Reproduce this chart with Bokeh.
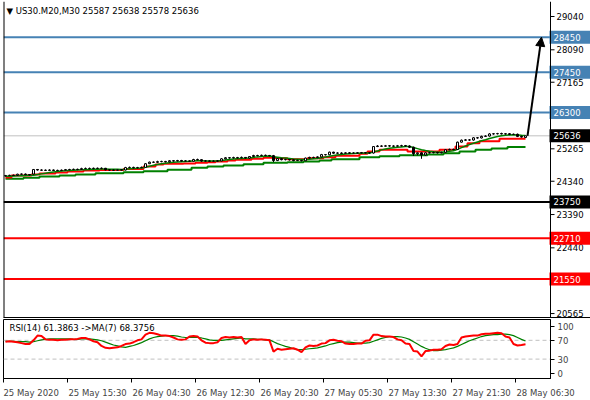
from bokeh.plotting import figure
from bokeh.models import (FixedTicker, Span, Arrow, NormalHead,
                          ColumnDataSource, Range1d)
from bokeh.layouts import column
from bokeh.embed import file_html
from bokeh.resources import INLINE
from bokeh.core.properties import value

FONT = "DejaVu Sans"
FS = "8.5px"

# ---------------- data ----------------
symbol = "US30.M20,M30"

opens = [
    24490, 24500, 24510, 24505, 24540, 24545, 24530, 24545, 24675, 24660,
    24655, 24650, 24660, 24650, 24645, 24655, 24670, 24675, 24680, 24675,
    24700, 24705, 24700, 24710, 24705, 24710, 24665, 24660, 24655, 24665,
    24660, 24730, 24735, 24725, 24730, 24735, 24840, 24885, 24880, 24900,
    24905, 24895, 24925, 24920, 24930, 24915, 24920, 24910, 24960, 24955,
    24915, 24920, 24910, 24915, 24920, 24980, 25010, 25005, 25015, 25010,
    25020, 25000, 25045, 25074, 25070, 25080, 25075, 25070, 24930, 24985,
    24955, 24960, 24950, 24930, 24935, 24925, 25000, 25020, 25015, 25035,
    25100, 25095, 25170, 25140, 25145, 25135, 25150, 25140, 25145, 25150,
    25155, 25150, 25145, 25330, 25345, 25340, 25350, 25345, 25340, 25350,
    25355, 25345, 25310, 25125, 25150, 25090, 25150, 25155, 25160, 25150,
    25165, 25240, 25250, 25245, 25455, 25510, 25520, 25515, 25580, 25575,
    25620, 25630, 25690, 25695, 25700, 25690, 25695, 25675, 25680, 25620,
    25587]

highs = [
    24520, 24525, 24530, 24555, 24560, 24560, 24545, 24690, 24690, 24680,
    24675, 24680, 24675, 24670, 24675, 24690, 24695, 24700, 24700, 24725,
    24730, 24730, 24730, 24730, 24735, 24720, 24680, 24680, 24685, 24685,
    24750, 24760, 24755, 24750, 24760, 24855, 24900, 24905, 24925, 24925,
    24920, 24945, 24945, 24950, 24950, 24940, 24935, 24980, 24985, 24965,
    24945, 24940, 24935, 24945, 25000, 25030, 25030, 25040, 25035, 25045,
    25030, 25060, 25095, 25095, 25100, 25100, 25090, 25090, 25000, 24995,
    24980, 24975, 24965, 24955, 24950, 25015, 25040, 25040, 25050, 25120,
    25115, 25185, 25180, 25165, 25165, 25170, 25170, 25165, 25170, 25175,
    25175, 25170, 25345, 25370, 25365, 25375, 25370, 25365, 25375, 25380,
    25375, 25365, 25325, 25165, 25165, 25170, 25180, 25185, 25180, 25185,
    25260, 25270, 25270, 25470, 25530, 25540, 25540, 25600, 25600, 25640,
    25650, 25710, 25715, 25720, 25725, 25715, 25715, 25700, 25700, 25640,
    25638]

lows = [
    24475, 24490, 24490, 24495, 24525, 24515, 24505, 24535, 24645, 24640,
    24635, 24640, 24635, 24630, 24630, 24645, 24655, 24660, 24655, 24665,
    24685, 24680, 24685, 24690, 24685, 24650, 24640, 24635, 24640, 24645,
    24650, 24715, 24705, 24705, 24715, 24725, 24830, 24860, 24865, 24880,
    24875, 24880, 24900, 24905, 24895, 24900, 24890, 24900, 24935, 24895,
    24900, 24890, 24895, 24895, 24910, 24965, 24985, 24990, 24990, 24995,
    24985, 24985, 25030, 25050, 25055, 25055, 25050, 24885, 24915, 24935,
    24935, 24930, 24910, 24915, 24905, 24915, 24990, 24995, 25000, 25020,
    25075, 25085, 25125, 25120, 25115, 25120, 25125, 25120, 25125, 25130,
    25130, 25125, 25130, 25315, 25320, 25325, 25325, 25320, 25325, 25330,
    25325, 25290, 25060, 25080, 24980, 25070, 25130, 25135, 25130, 25135,
    25150, 25225, 25225, 25230, 25440, 25495, 25495, 25500, 25555, 25560,
    25605, 25615, 25670, 25675, 25675, 25670, 25655, 25660, 25600, 25585,
    25578]

closes = [
    24500, 24510, 24505, 24540, 24545, 24530, 24520, 24675, 24660, 24655,
    24650, 24660, 24650, 24645, 24655, 24670, 24675, 24680, 24675, 24700,
    24705, 24700, 24710, 24705, 24710, 24665, 24660, 24655, 24665, 24660,
    24730, 24735, 24725, 24730, 24735, 24840, 24885, 24880, 24900, 24905,
    24895, 24925, 24920, 24930, 24915, 24920, 24910, 24960, 24955, 24915,
    24920, 24910, 24915, 24920, 24980, 25010, 25005, 25015, 25010, 25020,
    25005, 25045, 25074, 25070, 25080, 25075, 25070, 24930, 24985, 24955,
    24960, 24950, 24930, 24935, 24925, 25000, 25020, 25015, 25035, 25100,
    25095, 25170, 25140, 25145, 25135, 25150, 25140, 25145, 25150, 25155,
    25150, 25145, 25330, 25345, 25340, 25350, 25345, 25340, 25350, 25355,
    25345, 25310, 25125, 25150, 25090, 25150, 25155, 25160, 25150, 25165,
    25240, 25250, 25245, 25455, 25510, 25520, 25515, 25580, 25575, 25620,
    25630, 25690, 25695, 25700, 25690, 25695, 25675, 25680, 25620, 25600,
    25636]

# fast green moving average (tracks price)
fast_ma = [
    24480, 24485, 24490, 24495, 24500, 24505, 24510, 24512,
    24530, 24550, 24570, 24590, 24605, 24620, 24630, 24640,
    24648, 24655, 24660, 24665, 24670, 24675, 24680, 24685,
    24690, 24688, 24685, 24682, 24680, 24678, 24685, 24695,
    24705, 24712, 24720, 24740, 24770, 24795, 24820, 24840,
    24855, 24868, 24880, 24890, 24898, 24905, 24908, 24915,
    24922, 24922, 24920, 24918, 24918, 24918, 24930, 24945,
    24960, 24972, 24982, 24990, 24995, 25005, 25020, 25035,
    25048, 25056, 25062, 25040, 25025, 25010, 25000, 24990,
    24978, 24968, 24958, 24962, 24970, 24980, 24990, 25010,
    25030, 25055, 25075, 25090, 25105, 25115, 25125, 25132,
    25138, 25142, 25145, 25146, 25175, 25205, 25235, 25260,
    25280, 25295, 25310, 25320, 25330, 25330, 25300, 25270,
    25240, 25215, 25195, 25180, 25170, 25165, 25180, 25195,
    25210, 25250, 25300, 25345, 25385, 25425, 25460, 25495,
    25525, 25560, 25590, 25615, 25635, 25650, 25660, 25665,
    25660, 25650, 25645]

# red (higher-timeframe) moving average, stepped
red_ma = ([24447] * 2 + [24504] * 5 + [24532] * 2 + [24561] * 4 + [24589] * 3 +
          [24618] * 4 + [24646] * 4 + [24661] * 6 + [24689] * 5 + [24761] * 3 +
          [24818] * 2 + [24840] * 5 + [24845] * 3 + [24866] * 3 + [24883] * 2 +
          [24903] * 3 + [24932] * 2 + [24952] * 4 + [24980] * 3 + [25009] * 3 +
          [24995] * 3 + [24969] * 5 + [24997] * 4 + [25026] * 3 + [25066] * 6 +
          [25123] * 2 + [25188] * 3 + [25237] * 7 + [25188] * 8 + [25237] * 4 +
          [25331] * 3 + [25425] * 3 + [25482] * 5 + [25551] * 7)

# slow green moving average, stepped
slow_ma = ([24410] * 5 + [24438] * 4 + [24475] * 5 + [24504] * 4 + [24532] * 5 +
           [24569] * 7 + [24598] * 5 + [24626] * 6 + [24670] * 6 + [24723] * 4 +
           [24761] * 4 + [24789] * 5 + [24826] * 5 + [24866] * 6 + [24883] * 4 +
           [24903] * 4 + [24932] * 3 + [24969] * 7 + [25026] * 5 + [25054] * 5 +
           [25083] * 7 + [25103] * 4 + [25140] * 4 + [25188] * 4 + [25237] * 4 +
           [25274] * 4 + [25317] * 5)

rsi = [
    67, 68, 67, 66, 64, 62, 62, 70, 80, 79,
    72, 71, 71, 70, 71, 71, 72, 72, 73, 75,
    75, 72, 68, 66, 58, 54, 53, 54, 55, 58,
    62, 63, 66, 70, 72, 82, 86, 85, 83, 80,
    80, 79, 76, 72, 71, 72, 78, 79, 78, 70,
    65, 64, 64, 66, 75, 77, 76, 77, 76, 77,
    62, 70, 72, 71, 72, 71, 70, 46, 52, 50,
    51, 52, 53, 50, 45, 55, 59, 58, 59, 63,
    64, 70, 71, 69, 68, 63, 62, 62, 63, 63,
    69, 70, 82, 82, 79, 78, 78, 77, 72, 70,
    63, 62, 47, 46, 36, 47, 48, 50, 50, 51,
    58, 61, 60, 62, 76, 78, 79, 80, 80, 83,
    84, 84, 85, 86, 85, 78, 76, 62, 59, 60,
    61.39]

rsi_ma = [
    68, 68, 68, 67, 67, 67, 66, 67, 69, 71,
    72, 73, 73, 73, 73, 73, 73, 72, 72, 73,
    73, 73, 72, 71, 69, 66, 63, 60, 58, 56,
    55, 57, 59, 62, 65, 69, 73, 76, 78, 79,
    80, 80, 80, 79, 77, 76, 76, 76, 76, 75,
    73, 71, 70, 70, 70, 71, 72, 73, 74, 75,
    73, 73, 73, 72, 72, 71, 71, 67, 63, 60,
    57, 55, 52, 50, 50, 51, 52, 53, 54, 56,
    58, 61, 63, 65, 66, 66, 66, 65, 64, 64,
    64, 65, 68, 71, 74, 76, 78, 78, 78, 77,
    75, 72, 67, 62, 57, 53, 50, 48, 48, 49,
    50, 52, 54, 57, 61, 65, 69, 72, 75, 78,
    80, 81, 82, 82, 83, 83, 82, 80, 76, 72,
    68.38]

levels = [28450, 27450, 26300, 23750, 22710, 21550]
level_colors = ["#4682B4", "#4682B4", "#4682B4", "#000000", "#FF0000", "#FF0000"]
arrow_target = 28450
arrow_bars_ahead = 4

price_ticks = [29040, 28090, 27165, 26215, 25265, 24340, 23390, 22440, 21515, 20565]
time_ticks = [0, 16, 32, 48, 64, 80, 96, 112, 128]
time_labels = ["25 May 2020", "25 May 15:30", "26 May 04:30", "26 May 12:30",
               "26 May 20:30", "27 May 05:30", "27 May 13:30", "27 May 21:30",
               "28 May 06:30"]
rsi_ticks = [0, 30, 70, 100]
rsi_levels = [30, 70]
rsi_title = "RSI(14) 61.3863  ->MA(7) 68.3756"

# ---------------- geometry ----------------
n = len(closes)
idx = list(range(n))
W = 590
LB = 3                  # left border
SCALE_W = 40            # price scale width in px
DATA_W = W - LB - SCALE_W
x0 = -0.5
xb = 136.25             # right edge of the bar area (bar units)
ppb = DATA_W / (xb - x0)
x_end_main = xb + SCALE_W / ppb
px = 1.0 / ppb          # one pixel in bar units
y_lo, y_hi = 20424, 29468

# ---------------- main price panel ----------------
p = figure(width=W, height=318, frame_width=W - LB, frame_height=317,
           x_range=Range1d(x0, x_end_main), y_range=Range1d(y_lo, y_hi),
           x_axis_location=None, y_axis_location=None,
           output_backend="svg", toolbar_location=None,
           min_border_left=LB, min_border_right=0, min_border_top=1, min_border_bottom=0)
p.grid.visible = False
p.outline_line_color = None
p.background_fill_color = "white"
p.border_fill_color = "white"

# borders of the panel
p.add_layout(Span(location=x0, dimension="height", line_color="black", line_width=2))
p.add_layout(Span(location=y_lo, dimension="width", line_color="black", line_width=3))
p.add_layout(Span(location=xb, dimension="height", line_color="black", line_width=1))

# current price line + level lines
p.add_layout(Span(location=closes[-1], dimension="width", line_color="#C0C0C0",
                  line_width=1, level="underlay"))
p.segment(x0=[x0] * len(levels), x1=[xb] * len(levels), y0=levels, y1=levels,
          line_color=level_colors, line_width=2)

p.step(idx, slow_ma, mode="center", line_color="#008000", line_width=2)
p.step(idx, red_ma, mode="center", line_color="#FF0000", line_width=2)
p.line(idx, fast_ma, line_color="#008000", line_width=1.5)

top = [max(o, c) for o, c in zip(opens, closes)]
bot = [min(o, c) for o, c in zip(opens, closes)]
fill = ["white" if c >= o else "black" for o, c in zip(opens, closes)]
src = ColumnDataSource(dict(x=idx, h=highs, l=lows, top=top, bot=bot, fill=fill))
p.segment("x", "h", "x", "l", source=src, line_color="black", line_width=1)
p.vbar(x="x", top="top", bottom="bot", width=0.5, fill_color="fill",
       line_color="black", line_width=1, source=src)

p.add_layout(Arrow(end=NormalHead(size=9, fill_color="black", line_color="black"),
                   x_start=idx[-1] + 0.5, y_start=closes[-1],
                   x_end=idx[-1] + arrow_bars_ahead, y_end=arrow_target,
                   line_color="black", line_width=2))

title = "\u25bc " + symbol + "  " + " ".join(str(v) for v in
                                            (opens[-1], highs[-1], lows[-1], closes[-1]))
p.text(x=[x0 + 3 * px], y=[29211], text=[title], text_font=value(FONT),
       text_font_size=FS, text_color="black", text_baseline="middle")

# price scale: ticks and labels
nt = len(price_ticks)
p.segment(x0=[xb] * nt, x1=[xb + 4 * px] * nt, y0=price_ticks, y1=price_ticks,
          line_color="black", line_width=1)
p.text(x=[xb + 6 * px] * nt, y=price_ticks, text=[str(t) for t in price_ticks],
       text_font=value(FONT), text_font_size=FS, text_color="black",
       text_baseline="middle", text_align="left")

# level tags on the price scale
tag_vals = levels + [closes[-1]]
tag_cols = level_colors + ["#000000"]
ntag = len(tag_vals)
p.rect(x=[(xb - px + x_end_main) / 2] * ntag, y=tag_vals,
       width=x_end_main - xb + px, height=13, height_units="screen",
       fill_color=tag_cols, line_color=None)
p.text(x=[xb + 3 * px] * ntag, y=tag_vals, text=[str(v) for v in tag_vals],
       text_font=value(FONT), text_font_size=FS, text_color="white",
       text_baseline="middle", text_align="left")

# ---------------- RSI panel ----------------
r = figure(width=W, height=82, frame_width=DATA_W, frame_height=59,
           x_range=Range1d(x0, xb), y_range=Range1d(-11.3, 114.3),
           y_axis_location="right", output_backend="svg", toolbar_location=None,
           min_border_left=LB, min_border_right=SCALE_W, min_border_top=1,
           min_border_bottom=22)
r.grid.visible = False
r.outline_line_color = "black"
r.background_fill_color = "white"
r.border_fill_color = "white"

for lv in rsi_levels:
    r.add_layout(Span(location=lv, dimension="width", line_color="#C0C0C0",
                      line_width=1, line_dash="4 3", level="underlay"))
r.line(idx, rsi_ma, line_color="#008000", line_width=1.2)
r.line(idx, rsi, line_color="#FF0000", line_width=2)

ry = r.yaxis[0]
ry.ticker = FixedTicker(ticks=rsi_ticks)
ry.major_tick_out = 4
ry.major_tick_in = 0
ry.minor_tick_line_color = None
ry.major_label_standoff = 3
ry.major_label_text_font = FONT
ry.major_label_text_font_size = FS

# x axis: minor ticks mark the bar times, major (invisible) ticks centre the
# labels just to the right of each tick mark
half = [round(len(s) * 4.85 / 2 / ppb, 3) for s in time_labels]
label_pos = [round(t - 0.25 + h, 3) for t, h in zip(time_ticks, half)]
tick_pos = [t - 0.5 for t in time_ticks]
rx = r.xaxis[0]
rx.ticker = FixedTicker(ticks=label_pos, minor_ticks=tick_pos)
rx.major_label_overrides = {pos: s for pos, s in zip(label_pos, time_labels)}
rx.major_tick_line_color = None
rx.major_tick_out = 0
rx.major_tick_in = 0
rx.minor_tick_line_color = "black"
rx.minor_tick_out = 4
rx.minor_tick_in = 0
rx.major_label_standoff = 5
rx.major_label_text_font = FONT
rx.major_label_text_font_size = FS

r.text(x=[x0 + 6 * px], y=[97], text=[rsi_title], text_font=value(FONT),
       text_font_size=FS, text_color="black", text_baseline="middle")

lay = column(p, r, spacing=0)
open("out.html", "w").write(file_html(lay, INLINE))
